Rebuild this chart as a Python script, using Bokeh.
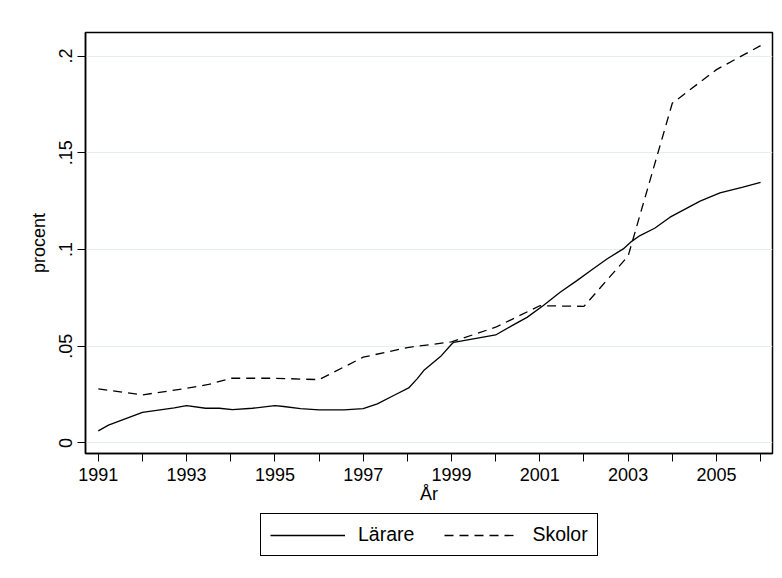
from bokeh.plotting import figure
from bokeh.layouts import column
from bokeh.models import FixedTicker, Range1d, Legend, LegendItem
from bokeh.embed import file_html
from bokeh.resources import INLINE

# Data
larare_year = [1991.0, 1991.23, 1992.0, 1992.72, 1993.0, 1993.43, 1993.74, 1994.04, 1994.49,
               1995.0, 1995.2, 1995.58, 1996.0, 1996.56, 1997.0, 1997.32, 1997.69, 1998.03,
               1998.22, 1998.37, 1998.75, 1999.0, 1999.05, 2000.0, 2000.37, 2000.71, 2001.08,
               2001.46, 2001.84, 2002.21, 2002.52, 2002.89, 2003.08, 2003.27, 2003.6, 2003.95,
               2004.63, 2005.08, 2005.6, 2006.0]
larare_val = [0.0062, 0.0092, 0.0158, 0.0181, 0.0193, 0.0179, 0.0179, 0.0172, 0.0179,
              0.0193, 0.0188, 0.0177, 0.0171, 0.0171, 0.0177, 0.0202, 0.0245, 0.0284,
              0.0331, 0.0374, 0.0446, 0.0510, 0.0520, 0.0558, 0.0606, 0.0649, 0.0710,
              0.0779, 0.0839, 0.0900, 0.0951, 0.1003, 0.1042, 0.1072, 0.1110, 0.1167,
              0.1250, 0.1293, 0.1322, 0.1347]

skolor_year = [1991, 1992, 1993, 1993.5, 1994, 1995, 1996, 1997, 1998, 1999, 2000, 2001,
               2002, 2003, 2004, 2005, 2006]
skolor_val = [0.0279, 0.0248, 0.0282, 0.0302, 0.0334, 0.0334, 0.0327, 0.0443, 0.0493, 0.0522,
              0.0598, 0.0709, 0.0706, 0.0966, 0.1756, 0.1930, 0.2054]

series_names = ["Lärare", "Skolor"]

x_ticks = list(range(1991, 2007))
x_tick_labels = {y: (str(y) if y % 2 == 1 else "") for y in x_ticks}
y_ticks = [0, 0.05, 0.1, 0.15, 0.2]
y_tick_labels = {0: "0", 0.05: ".05", 0.1: ".1", 0.15: ".15", 0.2: ".2"}

FONT = "Liberation Sans"
DASH = "9 6"

p = figure(width=782, height=510, output_backend="svg", toolbar_location=None,
           x_range=Range1d(1990.71, 2006.27), y_range=Range1d(-0.0055, 0.2122),
           min_border_left=85, min_border_right=10, min_border_top=32, min_border_bottom=57)

p.background_fill_color = "white"
p.border_fill_color = "white"
p.outline_line_color = "black"
p.outline_line_width = 1.5

p.line(larare_year, larare_val, line_color="black", line_width=1.3)
p.line(skolor_year, skolor_val, line_color="black", line_width=1.3, line_dash=DASH)

# axes
xa = p.xaxis[0]
xa.ticker = FixedTicker(ticks=x_ticks)
xa.major_label_overrides = x_tick_labels
xa.minor_tick_line_color = None
xa.major_tick_out = 8
xa.major_tick_in = 0
xa.axis_label = "År"
xa.axis_label_standoff = 0
xa.major_label_standoff = 6
xa.axis_label_text_font_style = "normal"
xa.axis_label_text_font = FONT
xa.axis_label_text_font_size = "18px"
xa.major_label_text_font = FONT
xa.major_label_text_font_size = "18px"
xa.major_label_text_color = "black"
xa.axis_label_text_color = "black"
xa.axis_line_color = "black"
xa.axis_line_width = 1.5
xa.major_tick_line_color = "black"

ya = p.yaxis[0]
ya.ticker = FixedTicker(ticks=y_ticks)
ya.major_label_overrides = y_tick_labels
ya.minor_tick_line_color = None
ya.major_tick_out = 8
ya.major_tick_in = 0
ya.major_label_orientation = "vertical"
ya.axis_label = "procent"
ya.axis_label_standoff = 8
ya.major_label_standoff = 5
ya.axis_label_text_font_style = "normal"
ya.axis_label_text_font = FONT
ya.axis_label_text_font_size = "18px"
ya.major_label_text_font = FONT
ya.major_label_text_font_size = "18px"
ya.major_label_text_color = "black"
ya.axis_label_text_color = "black"
ya.axis_line_color = "black"
ya.axis_line_width = 1.5
ya.major_tick_line_color = "black"

p.xgrid.grid_line_color = None
p.ygrid.ticker = FixedTicker(ticks=y_ticks)
p.ygrid.grid_line_color = "#e6eeee"
p.ygrid.grid_line_width = 1.2

# legend strip below the plot
q = figure(width=782, height=68, output_backend="svg", toolbar_location=None,
           x_axis_type=None, y_axis_type=None, min_border=0,
           x_range=Range1d(0, 1), y_range=Range1d(0, 1))
q.outline_line_color = None
q.background_fill_color = "white"
q.border_fill_color = "white"
q.xgrid.grid_line_color = None
q.ygrid.grid_line_color = None
# legend proxies (placed outside the visible range)
r1 = q.line([-5, -4], [-5, -4], line_color="black", line_width=1.3)
r2 = q.line([-5, -4], [-5, -4], line_color="black", line_width=1.3, line_dash=DASH)

legend = Legend(items=[LegendItem(label=series_names[0], renderers=[r1]),
                       LegendItem(label=series_names[1], renderers=[r2])],
                orientation="horizontal", location=(175, 22))
legend.border_line_color = "black"
legend.border_line_width = 1.2
legend.border_line_alpha = 1
legend.label_text_font = FONT
legend.label_text_font_size = "19.5px"
legend.label_text_color = "black"
legend.glyph_width = 75
legend.glyph_height = 22
legend.label_height = 22
legend.label_standoff = 13
legend.spacing = 30
legend.padding = 9
legend.margin = 0
q.add_layout(legend, "center")

layout = column(p, q, spacing=0)
open("out.html", "w").write(file_html(layout, INLINE))
